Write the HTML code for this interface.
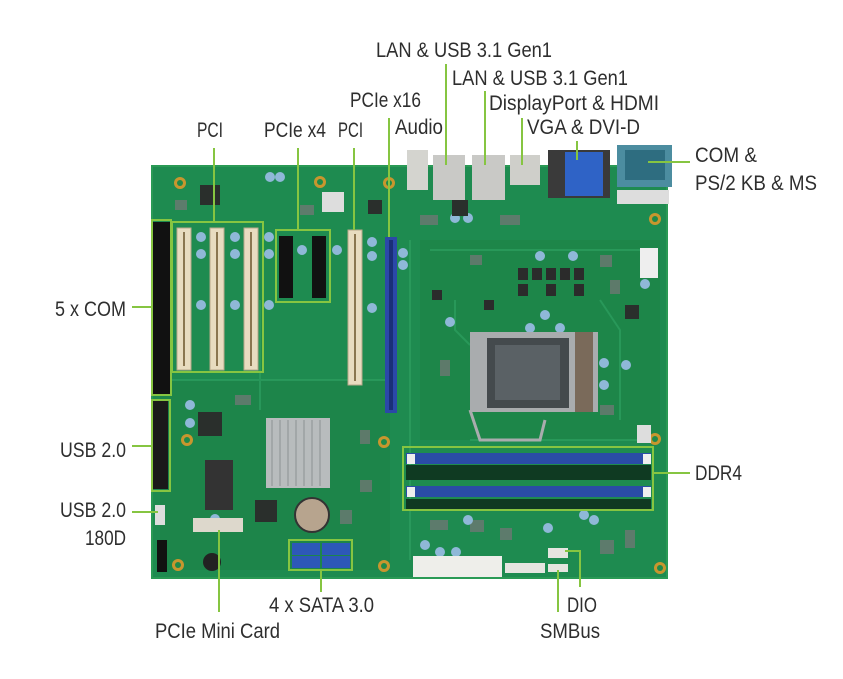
<!DOCTYPE html>
<html><head><meta charset="utf-8"><style>
html,body{margin:0;padding:0;background:#fff;}
svg{display:block;}
text{font-family:"Liberation Sans Narrow","Liberation Sans",sans-serif;font-size:21px;fill:#2e2e2e;}
</style></head><body>
<svg width="843" height="679" viewBox="0 0 843 679" xmlns="http://www.w3.org/2000/svg">
<!-- board -->
<rect x="152" y="166" width="515" height="412" fill="#1e8b50"/>
<rect x="152" y="166" width="515" height="412" fill="none" stroke="#2a9a55" stroke-width="2"/>
<rect x="420" y="240" width="240" height="200" fill="#1c8345" opacity="0.6"/>
<rect x="160" y="380" width="230" height="190" fill="#1b7f44" opacity="0.5"/>
<!-- traces -->
<g stroke="#2ea061" stroke-width="2" fill="none" opacity="0.7">
<path d="M410 240 L410 560"/><path d="M430 250 L640 250"/><path d="M455 300 L455 330 L470 345"/><path d="M600 300 L620 330 L620 420"/><path d="M170 380 L390 380"/><path d="M260 300 L260 410"/><path d="M470 440 L660 440"/>
</g>
<!-- small gray parts -->
<g fill="#6d7873" opacity="0.8">
<rect x="470" y="255" width="12" height="10"/><rect x="600" y="255" width="12" height="12"/><rect x="610" y="280" width="10" height="14"/><rect x="440" y="360" width="10" height="16"/><rect x="600" y="405" width="14" height="10"/><rect x="430" y="520" width="18" height="10"/><rect x="470" y="520" width="14" height="12"/><rect x="500" y="528" width="12" height="12"/><rect x="600" y="540" width="14" height="14"/><rect x="625" y="530" width="10" height="18"/><rect x="360" y="430" width="10" height="14"/><rect x="360" y="480" width="12" height="12"/><rect x="235" y="395" width="16" height="10"/><rect x="175" y="200" width="12" height="10"/><rect x="300" y="205" width="14" height="10"/><rect x="420" y="215" width="18" height="10"/><rect x="500" y="215" width="20" height="10"/><rect x="340" y="510" width="12" height="14"/></g>
<!-- mounting holes -->
<g fill="#c8962e"><circle cx="180" cy="183" r="6"/><circle cx="320" cy="182" r="6"/><circle cx="389" cy="183" r="6"/><circle cx="655" cy="219" r="6"/><circle cx="187" cy="440" r="6"/><circle cx="384" cy="442" r="6"/><circle cx="655" cy="439" r="6"/><circle cx="178" cy="565" r="6"/><circle cx="384" cy="566" r="6"/><circle cx="660" cy="568" r="6"/></g>
<g fill="#1f8a4a"><circle cx="180" cy="183" r="3"/><circle cx="320" cy="182" r="3"/><circle cx="389" cy="183" r="3"/><circle cx="655" cy="219" r="3"/><circle cx="187" cy="440" r="3"/><circle cx="384" cy="442" r="3"/><circle cx="655" cy="439" r="3"/><circle cx="178" cy="565" r="3"/><circle cx="384" cy="566" r="3"/><circle cx="660" cy="568" r="3"/></g>
<!-- left headers -->
<rect x="153" y="222" width="17" height="172" fill="#111"/>
<rect x="153" y="401" width="15" height="88" fill="#1a1a1a"/>
<rect x="155" y="505" width="10" height="20" fill="#ddd"/>
<rect x="157" y="540" width="10" height="32" fill="#111"/>
<!-- PCI slots -->
<g fill="#e8dcc0" stroke="#b9a98a" stroke-width="1">
<rect x="177" y="228" width="14" height="142"/><rect x="210" y="228" width="14" height="142"/><rect x="244" y="228" width="14" height="142"/>
<rect x="348" y="230" width="14" height="155"/>
</g>
<g stroke="#8a7650" stroke-width="2"><line x1="184" y1="232" x2="184" y2="366"/><line x1="217" y1="232" x2="217" y2="366"/><line x1="251" y1="232" x2="251" y2="366"/><line x1="355" y1="234" x2="355" y2="381"/></g>
<!-- PCIe x4 -->
<rect x="279" y="236" width="14" height="62" fill="#111"/>
<rect x="312" y="236" width="14" height="62" fill="#111"/>
<!-- PCIe x16 -->
<rect x="385" y="237" width="12" height="176" fill="#2b48a8"/>
<rect x="389" y="240" width="4" height="170" fill="#1a2f78"/>
<!-- caps -->
<g fill="#8fb8d8"><circle cx="201" cy="237" r="5"/><circle cx="201" cy="254" r="5"/><circle cx="235" cy="237" r="5"/><circle cx="235" cy="254" r="5"/><circle cx="269" cy="237" r="5"/><circle cx="269" cy="254" r="5"/><circle cx="269" cy="305" r="5"/><circle cx="201" cy="305" r="5"/><circle cx="235" cy="305" r="5"/><circle cx="302" cy="250" r="5"/><circle cx="337" cy="250" r="5"/><circle cx="372" cy="242" r="5"/><circle cx="372" cy="256" r="5"/><circle cx="403" cy="253" r="5"/><circle cx="403" cy="265" r="5"/><circle cx="372" cy="308" r="5"/><circle cx="540" cy="256" r="5"/><circle cx="573" cy="256" r="5"/><circle cx="545" cy="315" r="5"/><circle cx="530" cy="328" r="5"/><circle cx="560" cy="328" r="5"/><circle cx="450" cy="322" r="5"/><circle cx="455" cy="218" r="5"/><circle cx="468" cy="218" r="5"/><circle cx="645" cy="284" r="5"/><circle cx="626" cy="365" r="5"/><circle cx="604" cy="363" r="5"/><circle cx="604" cy="385" r="5"/><circle cx="270" cy="177" r="5"/><circle cx="280" cy="177" r="5"/><circle cx="548" cy="528" r="5"/><circle cx="584" cy="515" r="5"/><circle cx="594" cy="520" r="5"/><circle cx="190" cy="405" r="5"/><circle cx="190" cy="423" r="5"/><circle cx="215" cy="519" r="5"/><circle cx="425" cy="545" r="5"/><circle cx="440" cy="552" r="5"/><circle cx="456" cy="552" r="5"/><circle cx="468" cy="520" r="5"/></g>
<!-- chips -->
<g fill="#2a2f2c"><rect x="198" y="412" width="24" height="24"/><rect x="200" y="185" width="20" height="20"/><rect x="368" y="200" width="14" height="14"/><rect x="452" y="200" width="16" height="16"/><rect x="255" y="500" width="22" height="22"/><rect x="625" y="305" width="14" height="14"/></g>
<rect x="322" y="192" width="22" height="20" fill="#ddd"/>
<rect x="205" y="460" width="28" height="50" fill="#333"/>
<!-- heatsink -->
<rect x="266" y="418" width="64" height="70" fill="#b8bcbd"/>
<g stroke="#8d9293" stroke-width="1"><line x1="272" y1="420" x2="272" y2="486"/><line x1="280" y1="420" x2="280" y2="486"/><line x1="288" y1="420" x2="288" y2="486"/><line x1="296" y1="420" x2="296" y2="486"/><line x1="304" y1="420" x2="304" y2="486"/><line x1="312" y1="420" x2="312" y2="486"/><line x1="320" y1="420" x2="320" y2="486"/></g>
<circle cx="312" cy="515" r="17" fill="#b7a48e" stroke="#333" stroke-width="2"/>
<rect x="193" y="518" width="50" height="14" fill="#ddd8cc"/>
<circle cx="212" cy="562" r="9" fill="#222"/>
<!-- SATA -->
<rect x="292" y="543" width="28" height="12" fill="#2d58b8"/><rect x="322" y="543" width="28" height="12" fill="#2d58b8"/>
<rect x="292" y="556" width="28" height="12" fill="#2d58b8"/><rect x="322" y="556" width="28" height="12" fill="#2d58b8"/>
<!-- power connectors -->
<rect x="413" y="556" width="89" height="21" fill="#eeeeea"/>
<rect x="505" y="563" width="40" height="10" fill="#e5e5e0"/>
<rect x="548" y="548" width="20" height="10" fill="#e5e5e0"/>
<rect x="548" y="564" width="20" height="8" fill="#e5e5e0"/>
<rect x="640" y="248" width="18" height="30" fill="#eee"/>
<rect x="637" y="425" width="14" height="18" fill="#ddd"/>
<!-- CPU socket -->
<rect x="470" y="332" width="128" height="80" fill="#a9acae"/>
<rect x="487" y="338" width="82" height="70" fill="#444a4d"/>
<rect x="495" y="345" width="65" height="55" fill="#5a6165"/>
<rect x="575" y="332" width="18" height="80" fill="#7a6a5a"/>
<path d="M470 410 L480 440 L540 440 L545 420" fill="none" stroke="#a9acae" stroke-width="3"/>
<g fill="#2b2b2b"><rect x="518" y="268" width="10" height="12"/><rect x="532" y="268" width="10" height="12"/><rect x="546" y="268" width="10" height="12"/><rect x="560" y="268" width="10" height="12"/><rect x="574" y="268" width="10" height="12"/><rect x="518" y="284" width="10" height="12"/><rect x="546" y="284" width="10" height="12"/><rect x="574" y="284" width="10" height="12"/><rect x="432" y="290" width="10" height="10"/><rect x="484" y="300" width="10" height="10"/></g>
<!-- DIMMs -->
<rect x="406" y="465" width="245" height="15" fill="#0f3a22"/>
<rect x="406" y="499" width="245" height="10" fill="#0f3a22"/>
<rect x="406" y="453" width="245" height="11" fill="#2a4ca6"/>
<rect x="406" y="486" width="245" height="11" fill="#2a4ca6"/>
<rect x="407" y="454" width="8" height="10" fill="#eee"/><rect x="643" y="454" width="8" height="10" fill="#eee"/>
<rect x="407" y="487" width="8" height="10" fill="#eee"/><rect x="643" y="487" width="8" height="10" fill="#eee"/>
<!-- I/O -->
<rect x="407" y="150" width="21" height="40" fill="#d4d4cf"/>
<rect x="433" y="155" width="32" height="45" fill="#c9c9c6"/>
<rect x="472" y="155" width="33" height="45" fill="#c9c9c6"/>
<rect x="510" y="155" width="30" height="30" fill="#cfcfca"/>
<rect x="548" y="150" width="62" height="48" fill="#3a3a3a"/>
<rect x="565" y="152" width="38" height="44" fill="#2f63c6"/>
<rect x="617" y="145" width="55" height="42" fill="#4c8da0"/>
<rect x="625" y="150" width="40" height="30" fill="#2e6d80"/>
<rect x="617" y="190" width="52" height="14" fill="#ddd"/>
<!-- green highlight boxes -->
<g fill="none" stroke="#86c541" stroke-width="2">
<rect x="172" y="222" width="91" height="150"/>
<rect x="276" y="230" width="54" height="72"/>
<rect x="152" y="220" width="19" height="175"/>
<rect x="152" y="400" width="18" height="91"/>
<rect x="403" y="447" width="250" height="63"/>
<rect x="289" y="540" width="63" height="30"/>
</g>
<!-- leader lines -->
<g stroke="#86c541" stroke-width="2" fill="none">
<line x1="214" y1="148" x2="214" y2="222"/>
<line x1="298" y1="148" x2="298" y2="231"/>
<line x1="354" y1="148" x2="354" y2="230"/>
<line x1="389" y1="118" x2="389" y2="237"/>
<line x1="446" y1="64" x2="446" y2="165"/>
<line x1="485" y1="91" x2="485" y2="165"/>
<line x1="522" y1="118" x2="522" y2="165"/>
<line x1="577" y1="141" x2="577" y2="160"/>
<line x1="648" y1="162" x2="690" y2="162"/>
<line x1="132" y1="307" x2="152" y2="307"/>
<line x1="132" y1="446" x2="152" y2="446"/>
<line x1="132" y1="512" x2="158" y2="512"/>
<line x1="653" y1="473" x2="690" y2="473"/>
<line x1="321" y1="570" x2="321" y2="592"/>
<line x1="219" y1="530" x2="219" y2="612"/>
<polyline points="565,551 580,551 580,587"/>
<line x1="558" y1="570" x2="558" y2="612"/>
</g>
<!-- labels -->
<text x="376" y="57" textLength="176" lengthAdjust="spacingAndGlyphs">LAN &amp; USB 3.1 Gen1</text>
<text x="452" y="85" textLength="176" lengthAdjust="spacingAndGlyphs">LAN &amp; USB 3.1 Gen1</text>
<text x="350" y="107" textLength="71" lengthAdjust="spacingAndGlyphs">PCIe x16</text>
<text x="489" y="110" textLength="170" lengthAdjust="spacingAndGlyphs">DisplayPort &amp; HDMI</text>
<text x="197" y="137" textLength="26" lengthAdjust="spacingAndGlyphs">PCI</text>
<text x="264" y="137" textLength="62" lengthAdjust="spacingAndGlyphs">PCIe x4</text>
<text x="338" y="137" textLength="25" lengthAdjust="spacingAndGlyphs">PCI</text>
<text x="395" y="134" textLength="48" lengthAdjust="spacingAndGlyphs">Audio</text>
<text x="527" y="134" textLength="113" lengthAdjust="spacingAndGlyphs">VGA &amp; DVI-D</text>
<text x="695" y="162" textLength="62" lengthAdjust="spacingAndGlyphs">COM &amp;</text>
<text x="695" y="190" textLength="122" lengthAdjust="spacingAndGlyphs">PS/2 KB &amp; MS</text>
<text x="55" y="316" textLength="71" lengthAdjust="spacingAndGlyphs">5 x COM</text>
<text x="60" y="457" textLength="66" lengthAdjust="spacingAndGlyphs">USB 2.0</text>
<text x="60" y="517" textLength="66" lengthAdjust="spacingAndGlyphs">USB 2.0</text>
<text x="85" y="545" textLength="41" lengthAdjust="spacingAndGlyphs">180D</text>
<text x="695" y="480" textLength="47" lengthAdjust="spacingAndGlyphs">DDR4</text>
<text x="269" y="612" textLength="105" lengthAdjust="spacingAndGlyphs">4 x SATA 3.0</text>
<text x="567" y="612" textLength="30" lengthAdjust="spacingAndGlyphs">DIO</text>
<text x="155" y="638" textLength="125" lengthAdjust="spacingAndGlyphs">PCIe Mini Card</text>
<text x="540" y="638" textLength="60" lengthAdjust="spacingAndGlyphs">SMBus</text>
</svg>
</body></html>
